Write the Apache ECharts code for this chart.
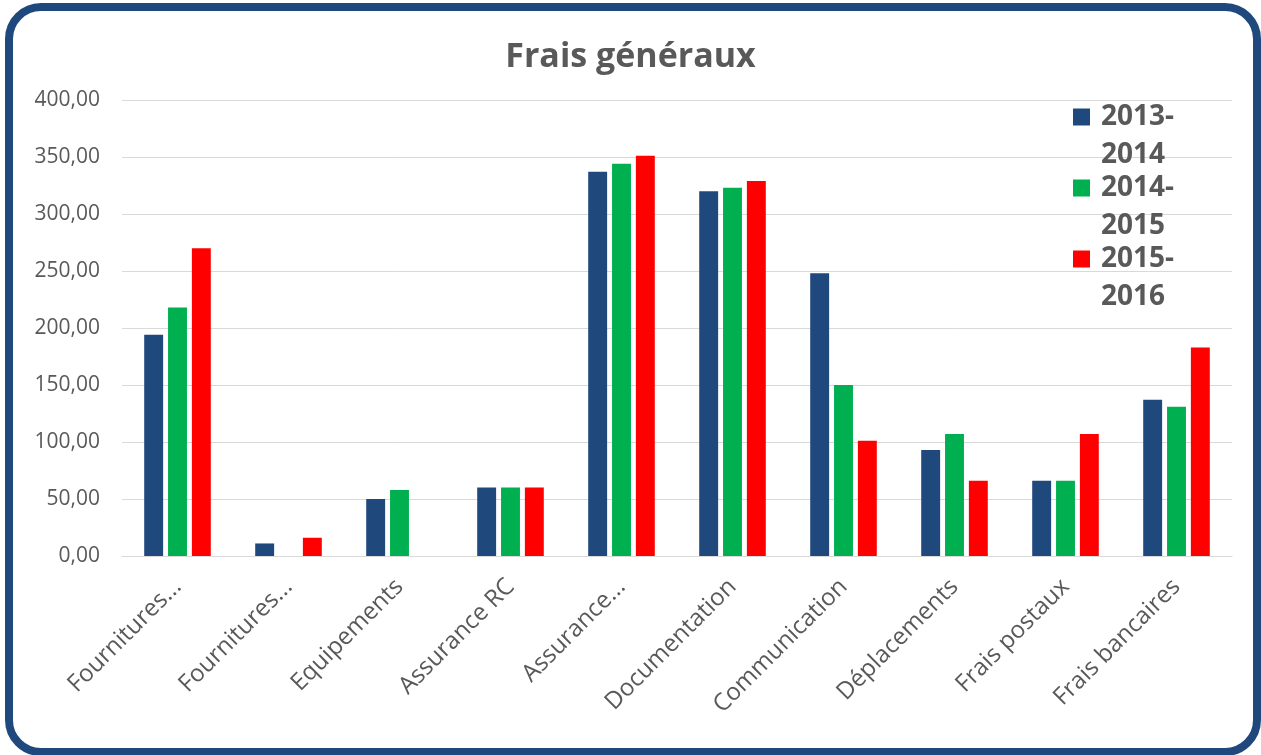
<!DOCTYPE html>
<html>
<head>
<meta charset="utf-8">
<title>Frais généraux</title>
<script src="https://cdn.jsdelivr.net/npm/echarts@6/dist/echarts.min.js"></script>
<style>
  html, body { margin: 0; padding: 0; background: #fff; }
  #wrap { position: relative; width: 1261px; height: 755px; overflow: hidden; }
  #frame {
    position: absolute; left: 5px; top: 3px; width: 1256px; height: 753px;
    box-sizing: border-box; border: 8px solid #1f497d; border-radius: 36px;
  }
  #chart { position: absolute; left: 0; top: 0; width: 1261px; height: 755px; }
</style>
</head>
<body>
<div id="wrap">
  <div id="frame"></div>
  <div id="chart"></div>
</div>
<script>
// catégories (texte tel qu'affiché, tronqué par Excel)
const categories = ['Fournitures...', 'Fournitures...', 'Equipements', 'Assurance RC', 'Assurance...',
  'Documentation', 'Communication', 'Déplacements', 'Frais postaux', 'Frais bancaires']
const seriesNames = ['2013-2014', '2014-2015', '2015-2016']
const values2013 = [194, 11, 50, 60, 337, 320, 248, 93, 66, 137]
const values2014 = [218, 0, 58, 60, 344, 323, 150, 107, 66, 131]
const values2015 = [270, 16, 0, 60, 351, 329, 101, 66, 107, 183]
const colors = ['#1f497d', '#00b050', '#ff0000']

const chart = echarts.init(document.getElementById('chart'))

const makeSeries = (name, data, color) => ({
  name: name,
  type: 'bar',
  data: data,
  barGap: '26%',
  barCategoryGap: '40%',
  itemStyle: { color: color }
})

const option = {
  animation: false,
  title: {
    text: 'Frais généraux',
    left: 'center',
    top: 35,
    textStyle: { fontFamily: 'Open Sans', fontWeight: 'bold', fontSize: 34, color: '#595959' }
  },
  legend: {
    orient: 'vertical',
    left: 1073,
    top: 60,
    padding: 0,
    itemWidth: 17,
    itemHeight: 17,
    itemGap: -43,
    icon: 'rect',
    // ligne vide en tête : le carré reste aligné sur la première ligne
    formatter: name => '\n' + name.replace('-', '-\n'),
    textStyle: {
      fontFamily: 'Open Sans', fontWeight: 'bold', fontSize: 28, color: '#595959',
      lineHeight: 38, padding: [0, 0, 0, 6]
    }
  },
  grid: { left: 122, right: 29, top: 100, bottom: 199, containLabel: false, outerBoundsMode: 'none' },
  xAxis: {
    type: 'category',
    data: categories,
    axisTick: { show: false },
    axisLine: { lineStyle: { color: '#d9d9d9', width: 1 } },
    axisLabel: {
      rotate: 45, interval: 0, margin: 27,
      fontFamily: 'Open Sans', fontSize: 24, color: '#595959'
    }
  },
  yAxis: {
    type: 'value',
    min: 0,
    max: 400,
    interval: 50,
    axisLine: { show: false },
    axisTick: { show: false },
    splitLine: { lineStyle: { color: '#d9d9d9', width: 1 } },
    axisLabel: {
      margin: 22,
      fontFamily: 'Open Sans', fontSize: 21, color: '#595959',
      formatter: v => v.toFixed(2).replace('.', ',')
    }
  },
  series: [
    makeSeries(seriesNames[0], values2013, colors[0]),
    makeSeries(seriesNames[1], values2014, colors[1]),
    makeSeries(seriesNames[2], values2015, colors[2])
  ]
}

chart.setOption(option)
</script>
</body>
</html>
